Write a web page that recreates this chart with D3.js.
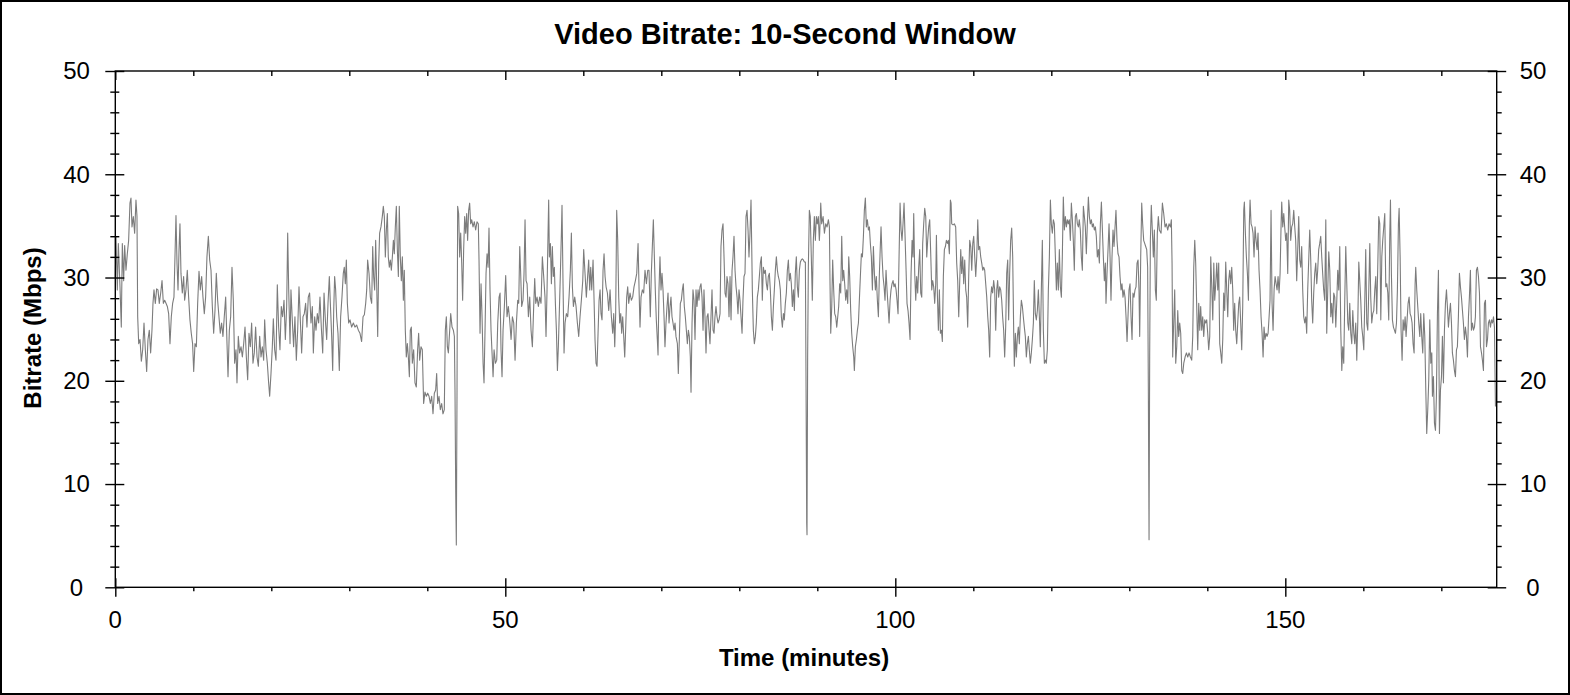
<!DOCTYPE html>
<html>
<head>
<meta charset="utf-8">
<script src="https://cdn.jsdelivr.net/npm/d3@7"></script>
<style>
  html, body { margin: 0; padding: 0; background: #fff; }
  svg { display: block; font-family: "Liberation Sans", Arial, sans-serif; }
</style>
</head>
<body>
<svg id="chart" width="1570" height="695"></svg>
<script>
// readings: [minutes, Mbps], in pieces of roughly 22 minutes
var part1 = [[0,30.0],[0.09,34.0],[0.26,28.8],[0.39,33.3],[0.6,29.1],[0.77,25.2],[0.9,33.3],[1.07,29.7],[1.2,33.1],[1.37,30.7],[1.54,32.3],[1.71,33.6],[1.88,37.2],[2.01,37.7],[2.14,34.9],[2.31,35.9],[2.48,34.3],[2.65,37.5],[2.78,35.9],[2.87,26.2],[3.0,23.6],[3.17,24.0],[3.34,21.9],[3.51,23.0],[3.68,25.6],[3.85,23.0],[4.02,20.9],[4.19,24.0],[4.36,24.9],[4.53,22.7],[4.7,24.9],[4.83,27.5],[4.96,28.8],[5.13,27.5],[5.3,28.9],[5.47,28.8],[5.64,27.5],[5.82,28.5],[5.99,29.7],[6.16,27.5],[6.33,27.8],[6.5,27.5],[6.67,27.2],[6.84,26.5],[7.01,23.6],[7.18,26.2],[7.35,27.5],[7.52,28.1],[7.65,32.0],[7.78,36.0],[7.91,31.4],[8.04,28.8],[8.17,32.7],[8.29,35.2],[8.42,30.4],[8.59,28.5],[8.76,30.1],[8.89,27.8],[9.06,28.8],[9.23,30.7],[9.4,28.1],[9.57,25.9],[9.74,24.6],[9.91,23.6],[10.05,20.9],[10.22,23.6],[10.39,23.3],[10.56,27.5],[10.73,30.6],[10.9,28.8],[11.07,30.1],[11.24,28.1],[11.41,26.5],[11.58,28.1],[11.75,32.0],[11.93,34.0],[12.1,31.7],[12.27,30.7],[12.44,27.2],[12.61,24.6],[12.78,26.8],[12.95,30.4],[13.12,27.8],[13.29,26.2],[13.46,24.6],[13.63,25.6],[13.8,24.3],[13.97,26.2],[14.15,28.1],[14.32,23.6],[14.45,20.4],[14.62,24.9],[14.79,26.2],[14.96,31.0],[15.13,27.8],[15.3,21.7],[15.47,23.0],[15.6,19.8],[15.77,24.3],[15.94,22.7],[16.12,23.3],[16.29,22.3],[16.46,23.6],[16.63,25.2],[16.8,22.3],[16.97,20.1],[17.14,24.6],[17.31,23.3],[17.48,25.6],[17.65,21.7],[17.82,22.7],[17.99,25.2],[18.17,22.3],[18.34,21.4],[18.51,24.3],[18.68,22.3],[18.85,23.3],[19.02,22.0],[19.15,25.9],[19.32,23.0],[19.49,21.7],[19.66,19.8],[19.79,18.5],[19.96,20.7],[20.13,23.3],[20.26,26.0],[20.43,23.0],[20.6,22.0],[20.77,29.3],[20.94,25.2],[21.11,23.0],[21.28,27.2],[21.45,26.2],[21.63,27.8],[21.8,24.0],[21.97,27.2],[22.1,34.3],[22.23,28.8],[22.4,23.6],[22.52,28.8],[22.69,25.9],[22.86,23.3],[23.03,26.2],[23.21,22.0],[23.38,24.9],[23.55,29.1],[23.72,25.9],[23.89,22.7],[24.06,26.2],[24.23,26.5],[24.4,27.5],[24.57,25.2],[24.74,28.1],[24.91,28.5]];

var part2 = [[25.09,25.6],[25.26,27.2],[25.39,22.7],[25.56,26.2],[25.73,24.9],[25.9,26.5],[26.07,25.6],[26.24,28.1],[26.41,25.2],[26.59,22.7],[26.76,28.5],[26.93,25.9],[27.1,24.0],[27.27,27.5],[27.44,30.1],[27.57,27.5],[27.74,24.3],[27.87,21.0],[28.0,26.8],[28.12,30.1],[28.25,28.8],[28.38,26.2],[28.55,24.6],[28.72,21.0],[28.89,26.2],[29.06,28.1],[29.23,30.4],[29.36,31.0],[29.49,29.4],[29.62,31.7],[29.75,27.5],[29.92,25.6],[30.09,25.9],[30.3,25.2],[30.52,25.6],[30.73,25.2],[30.94,25.4],[31.16,24.9],[31.37,24.6],[31.58,23.8],[31.76,26.2],[31.93,26.4],[32.1,27.5],[32.23,28.8],[32.35,31.7],[32.53,30.4],[32.7,28.1],[32.87,27.5],[33.0,33.0],[33.12,30.1],[33.25,28.8],[33.38,33.6],[33.51,29.4],[33.64,24.3],[33.77,31.4],[33.89,34.3],[34.06,34.9],[34.23,35.9],[34.36,36.9],[34.49,35.9],[34.62,32.0],[34.75,34.6],[34.88,36.2],[35.0,32.0],[35.13,31.0],[35.26,31.7],[35.39,30.7],[35.52,32.0],[35.65,33.6],[35.77,32.3],[35.9,34.9],[36.03,36.9],[36.16,32.7],[36.29,30.1],[36.41,36.9],[36.54,32.0],[36.67,29.7],[36.8,32.0],[36.93,27.8],[37.05,30.7],[37.18,24.9],[37.31,22.3],[37.44,23.6],[37.57,22.3],[37.7,20.4],[37.82,24.9],[37.95,25.2],[38.08,21.7],[38.25,23.0],[38.42,19.8],[38.59,19.4],[38.76,23.0],[38.89,24.6],[39.02,22.0],[39.19,23.3],[39.36,23.0],[39.53,17.8],[39.7,18.9],[39.88,18.5],[40.05,18.8],[40.22,18.5],[40.39,17.8],[40.56,18.5],[40.73,16.8],[40.9,18.8],[41.07,19.1],[41.2,20.7],[41.33,17.8],[41.5,18.5],[41.67,17.2],[41.84,17.8],[42.01,16.8],[42.18,17.2],[42.31,24.9],[42.44,26.2],[42.57,23.3],[42.7,22.7],[42.87,24.9],[43.0,26.5],[43.17,25.2],[43.34,24.9],[43.47,24.3],[43.55,19.1],[43.64,9.4],[43.72,4.1],[43.81,19.1],[43.89,36.9],[44.02,36.2],[44.15,32.0],[44.28,34.3],[44.41,31.4],[44.53,27.8],[44.66,32.7],[44.79,35.9],[44.92,34.3],[45.05,36.2],[45.17,33.6],[45.3,36.5],[45.43,37.2],[45.56,35.2],[45.69,35.6],[45.86,34.9],[46.03,35.4],[46.2,34.6],[46.37,35.4],[46.54,35.2]];

var part3 = [[46.63,31.7],[46.76,24.6],[46.89,29.4],[47.02,26.2],[47.15,21.7],[47.27,19.8],[47.4,24.9],[47.53,30.4],[47.66,32.3],[47.79,31.0],[47.91,34.8],[48.04,28.8],[48.17,24.9],[48.3,22.7],[48.43,20.4],[48.56,23.0],[48.73,21.7],[48.9,22.0],[49.03,25.6],[49.2,28.1],[49.33,28.5],[49.45,23.0],[49.58,20.4],[49.71,24.9],[49.88,27.2],[50.05,30.2],[50.22,26.2],[50.39,27.2],[50.56,25.9],[50.74,24.0],[50.91,26.2],[51.08,25.6],[51.25,22.0],[51.42,25.6],[51.59,27.8],[51.72,27.5],[51.85,33.0],[51.97,30.4],[52.1,27.2],[52.27,27.8],[52.4,30.4],[52.53,35.6],[52.66,29.7],[52.79,29.4],[52.96,26.2],[53.13,28.1],[53.3,24.9],[53.47,23.3],[53.64,27.2],[53.77,29.9],[53.9,27.5],[54.07,28.1],[54.24,27.2],[54.41,28.1],[54.58,27.5],[54.75,32.0],[54.92,30.1],[55.09,28.1],[55.22,24.3],[55.35,28.8],[55.48,34.3],[55.56,37.5],[55.65,32.0],[55.78,33.3],[55.91,29.4],[56.03,33.0],[56.16,30.1],[56.29,31.0],[56.42,27.5],[56.55,24.9],[56.68,21.0],[56.8,23.3],[56.93,26.8],[57.06,30.4],[57.19,34.3],[57.27,37.0],[57.4,29.4],[57.53,22.7],[57.66,25.6],[57.83,26.5],[58.0,26.2],[58.17,28.1],[58.34,30.7],[58.47,34.3],[58.6,29.1],[58.73,27.2],[58.9,28.1],[59.07,27.2],[59.24,25.6],[59.41,24.3],[59.58,26.2],[59.75,27.8],[59.93,29.7],[60.05,32.7],[60.22,30.4],[60.39,28.1],[60.52,29.7],[60.69,31.7],[60.82,28.8],[60.95,31.0],[61.08,28.8],[61.25,31.7],[61.38,27.8],[61.5,24.0],[61.63,21.7],[61.76,21.4],[61.89,24.6],[62.02,27.8],[62.15,28.8],[62.27,26.5],[62.4,25.9],[62.53,30.7],[62.66,32.3],[62.79,30.1],[62.92,29.1],[63.09,28.5],[63.26,26.8],[63.43,28.8],[63.6,26.2],[63.77,24.6],[63.9,26.5],[64.03,23.3],[64.15,26.5],[64.28,36.5],[64.41,33.6],[64.54,28.1],[64.67,25.6],[64.8,26.5],[64.92,24.6],[65.05,26.2],[65.18,24.3],[65.31,22.3],[65.44,25.2],[65.56,28.1],[65.69,29.1],[65.82,27.5],[65.99,28.5],[66.16,27.8],[66.33,28.1],[66.5,29.1],[66.68,29.7],[66.85,30.4],[67.02,33.3],[67.15,28.8],[67.27,25.2],[67.4,28.1],[67.57,28.8],[67.74,28.5],[67.91,30.7],[68.09,29.4],[68.26,30.7]];

var part4 = [[68.42,30.7],[68.59,26.2],[68.72,30.4],[68.85,33.0],[68.98,35.6],[69.11,32.0],[69.23,28.8],[69.36,25.9],[69.49,24.0],[69.58,22.5],[69.7,28.8],[69.83,32.0],[69.96,28.8],[70.09,30.4],[70.22,28.8],[70.35,26.2],[70.47,23.3],[70.6,25.6],[70.73,27.2],[70.86,28.5],[70.99,25.6],[71.12,27.2],[71.24,28.1],[71.37,26.2],[71.5,25.6],[71.63,24.9],[71.76,25.6],[71.88,24.3],[72.06,23.6],[72.18,20.7],[72.31,24.0],[72.44,27.5],[72.57,27.8],[72.7,28.8],[72.82,29.4],[72.95,27.2],[73.08,26.2],[73.21,24.9],[73.34,23.6],[73.47,24.9],[73.59,24.3],[73.72,22.3],[73.81,18.9],[73.94,25.6],[74.06,28.8],[74.19,27.8],[74.32,24.0],[74.45,28.8],[74.58,27.2],[74.71,28.8],[74.83,27.8],[74.96,29.1],[75.09,29.4],[75.22,28.1],[75.35,24.9],[75.47,28.8],[75.6,26.2],[75.73,22.7],[75.86,26.2],[75.99,26.5],[76.12,24.9],[76.24,23.6],[76.37,26.2],[76.5,28.8],[76.63,24.9],[76.76,24.6],[76.88,26.2],[77.01,27.2],[77.14,26.2],[77.27,25.6],[77.4,25.9],[77.53,26.5],[77.65,33.0],[77.78,34.6],[77.91,35.2],[78.04,32.0],[78.17,28.5],[78.3,28.1],[78.42,30.1],[78.55,29.4],[78.68,26.2],[78.81,30.1],[78.94,25.9],[79.07,30.7],[79.19,32.0],[79.32,34.0],[79.45,30.7],[79.58,29.1],[79.71,28.1],[79.83,26.5],[79.96,28.8],[80.09,27.8],[80.22,26.2],[80.35,24.6],[80.47,27.8],[80.6,30.1],[80.73,30.4],[80.86,35.9],[80.99,36.5],[81.12,34.6],[81.24,32.0],[81.37,34.3],[81.5,37.5],[81.58,33.6],[81.67,28.8],[81.8,24.9],[81.93,23.6],[82.06,24.3],[82.18,25.6],[82.31,28.1],[82.44,28.8],[82.57,30.1],[82.7,31.4],[82.83,32.0],[82.95,27.8],[83.08,31.0],[83.21,30.4],[83.34,30.7],[83.47,29.4],[83.6,28.8],[83.72,30.1],[83.85,30.4],[83.98,28.8],[84.11,26.2],[84.24,24.9],[84.37,27.2],[84.49,28.8],[84.62,30.7],[84.75,32.0],[84.88,30.7],[85.0,30.1],[85.13,29.7],[85.26,28.8],[85.39,26.2],[85.52,25.2],[85.65,26.5],[85.77,25.9],[85.9,27.5],[86.03,28.5],[86.16,30.7],[86.29,31.7],[86.41,29.7],[86.54,30.4],[86.67,29.4],[86.8,27.2],[86.93,28.8],[87.06,26.8],[87.18,30.4],[87.31,32.0],[87.44,29.1],[87.57,28.1],[87.7,30.7],[87.83,31.5],[87.95,31.7],[88.08,31.8],[88.21,31.7],[88.34,31.5],[88.47,31.5],[88.55,20.4],[88.64,6.2],[88.68,5.1],[88.76,22.3],[88.85,31.0],[88.98,36.5],[89.1,35.9],[89.23,32.0],[89.36,27.8],[89.49,33.6],[89.62,35.9],[89.75,33.6],[89.88,35.9],[90.0,35.2],[90.13,35.9],[90.26,33.6]];

var part5 = [[90.31,34.3],[90.44,37.2],[90.56,35.2],[90.74,35.9],[90.91,34.3],[91.08,35.2],[91.25,34.9],[91.42,35.6],[91.55,34.9],[91.63,29.4],[91.72,24.6],[91.85,27.2],[91.97,31.7],[92.1,28.8],[92.23,26.5],[92.36,26.2],[92.49,25.2],[92.62,26.2],[92.74,27.2],[92.87,29.4],[93.0,28.5],[93.13,34.0],[93.26,29.7],[93.38,30.7],[93.51,29.4],[93.64,27.8],[93.77,28.8],[93.9,27.5],[94.03,32.0],[94.15,30.1],[94.28,26.8],[94.41,24.6],[94.54,23.3],[94.67,22.3],[94.75,21.0],[94.88,23.3],[95.01,24.0],[95.14,24.9],[95.27,25.6],[95.39,27.8],[95.52,30.1],[95.65,32.3],[95.78,32.0],[95.91,34.0],[96.03,36.5],[96.16,37.7],[96.29,34.9],[96.42,35.6],[96.55,34.6],[96.68,34.9],[96.8,33.3],[96.93,32.0],[97.06,28.8],[97.19,33.0],[97.32,30.4],[97.45,28.8],[97.57,30.1],[97.7,27.8],[97.83,26.2],[97.96,30.4],[98.09,33.3],[98.17,34.9],[98.3,32.0],[98.43,30.1],[98.56,29.1],[98.68,27.8],[98.81,30.7],[98.94,28.8],[99.07,27.2],[99.2,25.6],[99.33,27.8],[99.45,28.8],[99.58,29.4],[99.71,29.7],[99.84,29.1],[99.97,29.4],[100.1,28.8],[100.22,27.8],[100.35,26.5],[100.48,32.0],[100.61,37.2],[100.74,34.6],[100.86,33.6],[100.99,35.2],[101.12,37.2],[101.25,34.0],[101.38,30.7],[101.5,27.5],[101.63,26.8],[101.76,25.6],[101.89,24.0],[102.02,30.4],[102.15,33.6],[102.27,32.0],[102.36,36.2],[102.49,30.4],[102.62,27.8],[102.74,30.1],[102.87,28.5],[103.0,31.0],[103.13,32.7],[103.26,28.5],[103.39,28.1],[103.51,33.3],[103.64,35.2],[103.77,36.7],[103.9,35.9],[104.03,32.0],[104.15,33.6],[104.28,34.9],[104.41,35.6],[104.54,32.3],[104.67,28.8],[104.79,29.7],[104.92,29.1],[105.05,27.5],[105.18,29.4],[105.27,34.1],[105.39,28.5],[105.52,24.9],[105.65,28.8],[105.78,24.6],[105.91,24.9],[106.03,23.8],[106.16,30.1],[106.29,32.7],[106.42,33.0],[106.55,33.6],[106.68,33.3],[106.8,33.6],[106.93,32.3],[107.06,37.5],[107.15,37.2],[107.23,35.2],[107.4,35.1],[107.57,35.2],[107.74,34.9],[107.87,31.4],[108.0,29.7],[108.13,26.2],[108.26,29.7],[108.39,32.7],[108.51,30.4],[108.64,32.0],[108.77,29.4],[108.9,31.7],[109.03,28.8],[109.15,28.1],[109.28,25.2],[109.41,30.1],[109.54,33.6],[109.67,33.0],[109.8,30.7],[109.93,33.3],[110.05,34.0],[110.18,32.0],[110.31,30.1],[110.44,32.0],[110.57,35.6],[110.69,32.7],[110.82,33.0],[110.95,32.0],[111.08,31.4],[111.21,30.7],[111.33,31.0],[111.46,30.7],[111.59,29.4],[111.72,28.1],[111.85,26.2],[111.97,24.9],[112.1,22.3]];

var part6 = [[112.23,28.1],[112.35,29.1],[112.48,28.5],[112.61,29.7],[112.74,28.8],[112.87,24.9],[113.0,28.8],[113.12,29.7],[113.25,28.1],[113.38,29.1],[113.51,28.8],[113.64,27.8],[113.76,26.2],[113.89,24.9],[114.02,22.3],[114.15,25.2],[114.28,30.4],[114.41,31.7],[114.53,25.9],[114.66,30.4],[114.79,33.6],[114.92,34.8],[115.05,32.0],[115.18,24.6],[115.26,21.4],[115.39,24.6],[115.52,22.3],[115.65,24.3],[115.77,25.2],[115.9,23.6],[116.03,26.2],[116.16,27.8],[116.29,27.2],[116.41,26.2],[116.54,25.2],[116.67,24.3],[116.8,22.3],[116.93,23.6],[117.06,24.3],[117.18,23.0],[117.31,21.7],[117.44,22.7],[117.57,24.0],[117.7,25.6],[117.82,29.7],[117.95,26.5],[118.08,25.9],[118.21,26.8],[118.34,28.8],[118.47,26.2],[118.59,23.3],[118.72,28.8],[118.85,33.6],[118.98,24.9],[119.11,21.7],[119.24,22.0],[119.36,21.7],[119.49,23.0],[119.62,28.8],[119.75,32.0],[119.88,37.5],[120.0,35.2],[120.13,34.3],[120.26,35.6],[120.39,35.2],[120.52,32.0],[120.65,28.8],[120.77,31.4],[120.9,28.8],[121.03,32.7],[121.16,29.1],[121.29,28.1],[121.41,32.0],[121.54,37.8],[121.67,34.6],[121.8,35.9],[121.93,34.9],[122.06,35.6],[122.18,35.2],[122.31,35.6],[122.44,33.6],[122.57,37.2],[122.7,35.6],[122.82,33.6],[122.95,30.7],[123.08,35.9],[123.21,36.2],[123.34,35.2],[123.47,34.9],[123.59,35.6],[123.72,34.6],[123.85,32.0],[123.98,30.7],[124.11,36.9],[124.24,35.9],[124.36,34.9],[124.49,32.3],[124.62,35.2],[124.75,37.8],[124.88,35.9],[125.0,35.2],[125.13,35.6],[125.26,34.9],[125.39,35.2],[125.52,34.6],[125.65,34.9],[125.77,34.0],[125.9,32.0],[126.03,32.7],[126.16,31.4],[126.29,35.2],[126.42,37.3],[126.55,34.6],[126.67,32.0],[126.8,29.7],[126.93,31.4],[127.01,27.5],[127.14,30.4],[127.27,32.7],[127.4,35.2],[127.53,32.0],[127.65,27.8],[127.78,32.0],[127.91,34.6],[128.04,33.0],[128.17,34.9],[128.29,36.5],[128.42,33.6],[128.55,32.3],[128.68,32.0],[128.81,30.1],[128.94,28.8],[129.06,29.4],[129.19,28.1],[129.32,28.8],[129.45,28.1],[129.58,26.2],[129.71,23.8],[129.83,26.2],[129.96,28.8],[130.09,29.4],[130.22,26.2],[130.35,24.0],[130.47,28.5],[130.6,28.1],[130.73,28.8],[130.86,29.1],[130.99,31.4],[131.12,31.7],[131.24,28.8],[131.33,24.3],[131.46,32.0],[131.59,37.2],[131.71,35.2],[131.84,33.6],[131.97,33.3],[132.1,33.0],[132.23,32.7],[132.35,31.0],[132.44,19.1],[132.53,4.6],[132.61,22.3],[132.7,33.6],[132.82,37.0],[132.95,34.6],[133.08,32.0],[133.21,34.6],[133.34,28.8],[133.46,27.8],[133.59,34.3],[133.72,35.9],[133.85,34.6]];

var part7 = [[134.07,34.3],[134.24,37.2],[134.41,36.2],[134.58,34.9],[134.75,35.2],[134.92,34.6],[135.09,35.2],[135.27,34.9],[135.39,35.6],[135.48,31.4],[135.56,22.3],[135.69,25.6],[135.82,28.8],[135.95,21.7],[136.08,23.3],[136.21,26.8],[136.33,24.3],[136.46,25.6],[136.59,24.6],[136.72,21.0],[136.85,20.7],[136.98,21.7],[137.15,22.3],[137.32,22.7],[137.49,22.3],[137.66,22.7],[137.83,22.3],[138.0,22.0],[138.13,24.3],[138.26,31.0],[138.39,33.6],[138.51,31.4],[138.64,27.2],[138.77,23.0],[138.9,27.5],[139.03,24.9],[139.15,27.2],[139.28,24.9],[139.41,26.2],[139.54,24.3],[139.67,25.9],[139.8,25.6],[139.92,25.9],[140.05,24.6],[140.18,23.0],[140.31,24.3],[140.44,32.0],[140.57,29.1],[140.7,25.9],[140.83,31.4],[140.95,27.8],[141.08,29.4],[141.21,31.4],[141.34,28.8],[141.46,31.4],[141.59,23.6],[141.72,22.7],[141.85,21.7],[141.98,24.0],[142.1,28.5],[142.23,26.8],[142.36,31.5],[142.49,28.8],[142.62,26.2],[142.74,29.7],[142.87,30.7],[143.0,29.4],[143.13,31.0],[143.26,28.8],[143.38,24.9],[143.51,27.5],[143.64,24.9],[143.77,23.6],[143.9,25.6],[144.03,27.5],[144.15,28.1],[144.28,25.6],[144.41,23.0],[144.54,27.2],[144.67,36.5],[144.75,37.3],[144.88,34.3],[145.01,32.0],[145.14,30.4],[145.27,27.8],[145.39,35.2],[145.48,37.5],[145.61,35.2],[145.74,34.9],[145.86,34.3],[145.99,32.0],[146.12,34.9],[146.25,33.6],[146.38,32.7],[146.5,34.3],[146.63,30.7],[146.76,28.8],[146.89,26.2],[147.02,24.6],[147.15,22.3],[147.27,25.2],[147.4,24.0],[147.53,24.6],[147.66,24.3],[147.79,24.6],[147.92,26.2],[148.04,27.8],[148.17,36.5],[148.3,27.5],[148.43,24.9],[148.56,28.8],[148.69,30.1],[148.82,29.4],[148.94,28.8],[149.07,30.1],[149.2,28.5],[149.33,30.4],[149.46,35.2],[149.54,37.3],[149.67,34.9],[149.8,36.2],[149.92,34.9],[150.05,33.6],[150.18,34.3],[150.31,30.4],[150.44,37.5],[150.56,36.5],[150.69,33.6],[150.82,34.9],[150.95,35.2],[151.08,36.5],[151.21,34.9],[151.33,33.6],[151.46,29.7],[151.59,32.7],[151.72,35.9],[151.85,31.7],[151.98,31.0],[152.1,33.0],[152.23,28.8],[152.36,26.2],[152.49,25.6],[152.62,26.2],[152.74,24.6],[152.87,28.8],[153.0,31.7],[153.13,34.6],[153.26,31.7],[153.38,27.8],[153.51,25.6],[153.64,28.5],[153.77,30.4],[153.9,31.4],[154.03,29.4],[154.15,30.7],[154.28,32.7],[154.41,33.3],[154.54,34.0],[154.67,32.0],[154.79,30.4],[154.92,28.8],[155.05,27.8]];

var part8 = [[155.19,35.6],[155.31,24.6],[155.44,28.8],[155.57,32.5],[155.7,30.7],[155.83,26.2],[155.95,27.5],[156.08,25.6],[156.21,28.5],[156.34,28.1],[156.47,25.2],[156.6,27.8],[156.72,30.7],[156.85,28.8],[156.98,33.0],[157.11,24.9],[157.24,21.0],[157.36,23.3],[157.49,21.7],[157.62,27.8],[157.75,33.0],[157.88,29.4],[158.01,25.6],[158.13,24.9],[158.26,27.5],[158.39,24.6],[158.52,23.6],[158.65,26.8],[158.78,24.6],[158.9,23.6],[159.03,25.6],[159.16,22.0],[159.29,25.6],[159.42,31.5],[159.54,29.7],[159.67,27.8],[159.8,25.2],[159.93,24.3],[160.06,23.0],[160.19,27.8],[160.31,32.7],[160.44,25.6],[160.57,24.9],[160.7,28.8],[160.83,33.3],[160.95,28.1],[161.08,25.6],[161.21,26.5],[161.34,26.8],[161.47,28.8],[161.6,30.1],[161.72,26.5],[161.85,31.0],[161.98,35.9],[162.11,35.2],[162.24,25.9],[162.37,32.0],[162.49,33.6],[162.62,34.9],[162.75,36.2],[162.88,29.1],[163.01,29.4],[163.14,28.5],[163.26,25.9],[163.39,34.0],[163.48,37.5],[163.6,30.4],[163.73,25.9],[163.86,25.2],[163.99,24.9],[164.12,24.6],[164.25,25.6],[164.37,28.8],[164.5,35.2],[164.59,36.7],[164.72,32.0],[164.84,24.9],[164.97,22.0],[165.1,25.9],[165.23,24.9],[165.36,26.2],[165.48,24.3],[165.61,25.9],[165.74,27.5],[165.87,28.1],[166.0,26.5],[166.13,26.2],[166.25,25.6],[166.38,23.6],[166.51,22.7],[166.64,29.4],[166.72,31.0],[166.85,28.8],[166.98,27.2],[167.11,25.6],[167.24,24.3],[167.36,26.5],[167.49,24.3],[167.62,22.7],[167.75,26.5],[167.88,24.3],[168.01,19.1],[168.13,14.9],[168.26,17.2],[168.39,20.1],[168.52,25.9],[168.65,21.7],[168.78,22.7],[168.86,18.5],[168.99,20.4],[169.12,15.9],[169.25,15.2],[169.37,18.5],[169.5,26.5],[169.63,30.7],[169.76,14.9],[169.89,19.1],[170.02,20.4],[170.14,24.3],[170.27,19.8],[170.4,24.9],[170.53,27.5],[170.66,28.8],[170.78,27.2],[170.91,25.2],[171.04,26.5],[171.17,27.5],[171.3,25.6],[171.42,22.7],[171.55,22.0],[171.68,21.0],[171.81,20.4],[171.94,23.0],[172.06,23.3],[172.19,26.2],[172.32,30.4],[172.45,29.1],[172.58,28.1],[172.71,26.8],[172.83,25.6],[172.96,24.0],[173.09,25.2],[173.22,24.3],[173.35,22.3],[173.48,26.2],[173.6,28.1],[173.73,30.7],[173.86,24.9],[173.99,25.6],[174.12,24.9],[174.25,25.2],[174.37,26.2],[174.5,30.7],[174.63,31.0],[174.76,30.1],[174.89,28.5],[175.02,23.3],[175.15,22.7],[175.27,22.0],[175.4,21.0],[175.53,27.5],[175.66,27.8],[175.79,23.3],[175.92,24.0],[176.04,25.6],[176.17,25.9],[176.3,25.2],[176.43,25.9],[176.56,25.6],[176.69,26.2],[176.81,25.2],[176.94,17.5]];

var xMajor = [0, 50, 100, 150];
var xMinor = [10, 20, 30, 40, 60, 70, 80, 90, 110, 120, 130, 140, 160, 170];
var yMajor = [0, 10, 20, 30, 40, 50];
var yMinor = [2, 4, 6, 8, 12, 14, 16, 18, 22, 24, 26, 28, 32, 34, 36, 38, 42, 44, 46, 48];

var samples = part1.concat(part2, part3, part4, part5, part6, part7, part8);

var svg = d3.select('#chart');
var W = 1570, H = 695;
var plotL = 115.3, plotR = 1496.7, plotT = 71, plotB = 587.3;

var x = d3.scaleLinear().domain([0, 177.1]).range([plotL, plotR]);
var y = d3.scaleLinear().domain([0, 50]).range([plotB, plotT]);

// outer frame
svg.append('rect')
  .attr('x', 1).attr('y', 1)
  .attr('width', W - 2).attr('height', H - 2)
  .attr('fill', '#fff').attr('stroke', '#000').attr('stroke-width', 2);

// the bitrate trace
var line = d3.line().x(function(d){ return x(d[0]); }).y(function(d){ return y(d[1]); });
svg.append('path')
  .datum(samples)
  .attr('d', line)
  .attr('fill', 'none')
  .attr('stroke', '#7c7c7c')
  .attr('stroke-width', 1.1)
  .attr('stroke-linejoin', 'round');

// tick marks only (labels added separately)
function tickRow(axisFn, scale, values, size, tx, ty) {
  var g = svg.append('g')
    .attr('transform', 'translate(' + tx + ',' + ty + ')')
    .call(axisFn(scale).tickValues(values).tickSize(size).tickSizeOuter(0).tickFormat(''));
  g.select('.domain').remove();
  g.selectAll('.tick line').attr('stroke', '#000').attr('stroke-width', 1.4);
  return g;
}

// left axis: majors cross, minors cross a little
tickRow(d3.axisLeft, y, yMajor, 10, plotL, 0);
tickRow(d3.axisRight, y, yMajor, 9, plotL, 0);
tickRow(d3.axisLeft, y, yMinor, 5, plotL, 0);
tickRow(d3.axisRight, y, yMinor, 4, plotL, 0);

// right axis: majors cross, minors outward
tickRow(d3.axisRight, y, yMajor, 9.5, plotR, 0);
tickRow(d3.axisLeft, y, yMajor, 9, plotR, 0);
tickRow(d3.axisRight, y, yMinor, 5, plotR, 0);

// bottom axis: majors cross, minors outward
tickRow(d3.axisBottom, x, xMajor, 9.5, 0, plotB);
tickRow(d3.axisTop, x, xMajor, 9, 0, plotB);
tickRow(d3.axisBottom, x, xMinor, 4, 0, plotB);

// top axis: inward only
tickRow(d3.axisBottom, x, xMajor, 9, 0, plotT);
tickRow(d3.axisBottom, x, xMinor, 5, 0, plotT);

// plot frame
svg.append('rect')
  .attr('x', plotL).attr('y', plotT)
  .attr('width', plotR - plotL).attr('height', plotB - plotT)
  .attr('fill', 'none').attr('stroke', '#000').attr('stroke-width', 1.4);

// tick labels
var fontSize = 24;
svg.append('g').selectAll('text').data(yMajor).join('text')
  .attr('x', 76.5).attr('y', function(d){ return y(d); })
  .attr('dy', '0.35em').attr('text-anchor', 'middle')
  .attr('font-size', fontSize).attr('fill', '#000')
  .text(function(d){ return d; });

svg.append('g').selectAll('text').data(yMajor).join('text')
  .attr('x', 1533).attr('y', function(d){ return y(d); })
  .attr('dy', '0.35em').attr('text-anchor', 'middle')
  .attr('font-size', fontSize).attr('fill', '#000')
  .text(function(d){ return d; });

svg.append('g').selectAll('text').data(xMajor).join('text')
  .attr('x', function(d){ return x(d); }).attr('y', 627.5)
  .attr('text-anchor', 'middle')
  .attr('font-size', fontSize).attr('fill', '#000')
  .text(function(d){ return d; });

// titles
svg.append('text')
  .attr('x', 785).attr('y', 44)
  .attr('text-anchor', 'middle')
  .attr('font-size', 29).attr('font-weight', 'bold')
  .text('Video Bitrate: 10-Second Window');

svg.append('text')
  .attr('x', 804).attr('y', 666)
  .attr('text-anchor', 'middle')
  .attr('font-size', 24).attr('font-weight', 'bold')
  .text('Time (minutes)');

svg.append('text')
  .attr('transform', 'translate(41,328) rotate(-90)')
  .attr('text-anchor', 'middle')
  .attr('font-size', 24).attr('font-weight', 'bold')
  .text('Bitrate (Mbps)');
</script>
</body>
</html>
